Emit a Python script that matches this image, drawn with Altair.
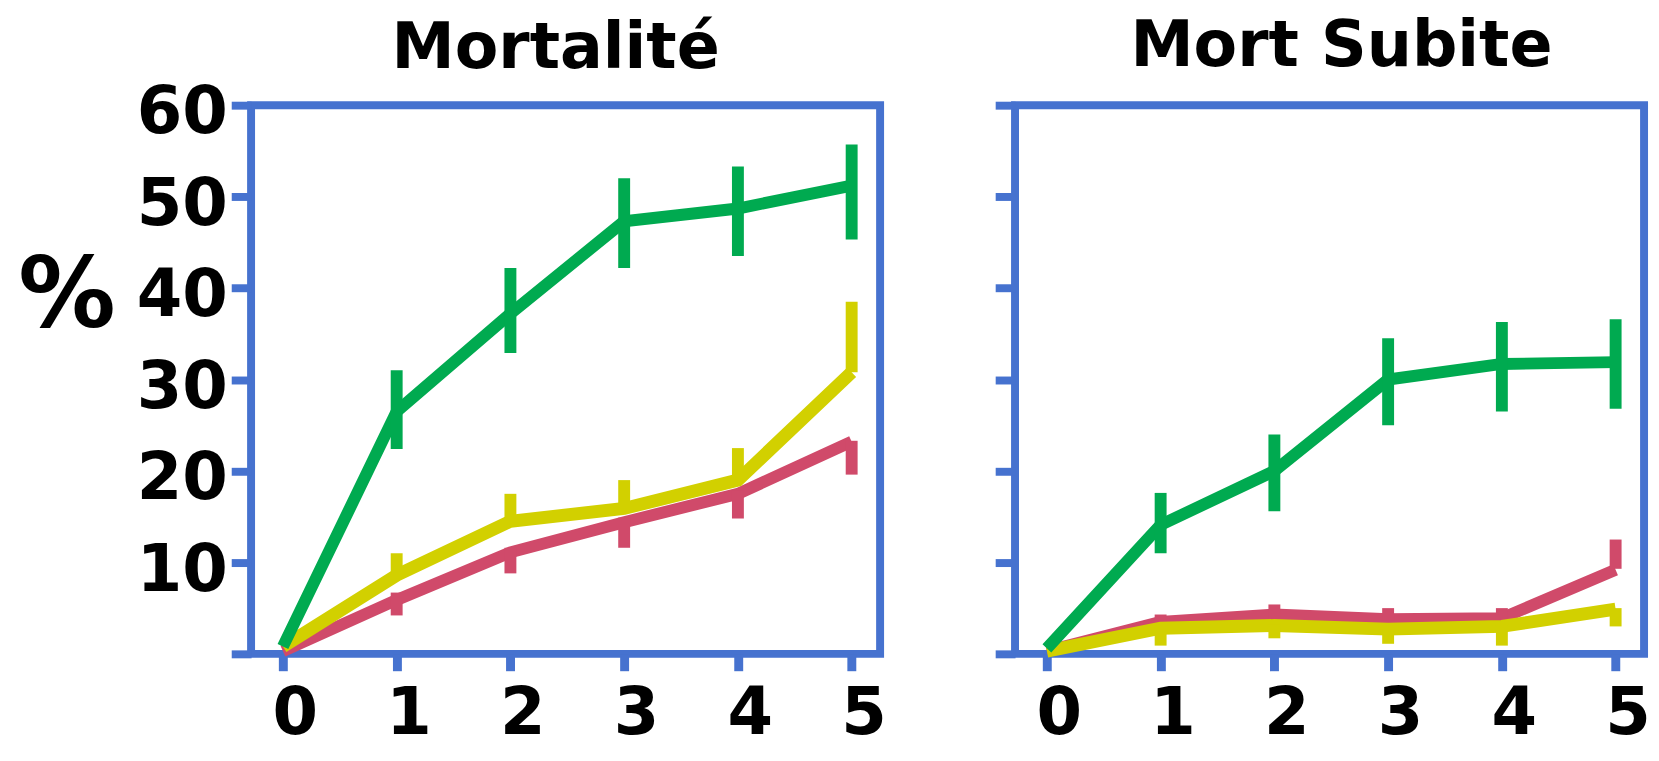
import altair as alt
import pandas as pd

FONT = "DejaVu Sans"
BLUE = "#4672CF"
COLORS = {"pink": "#D04A6A", "yellow": "#D2D000", "green": "#00AA50"}

x_vals = [0, 1, 2, 3, 4, 5]
err_x = [1, 2, 3, 4, 5]

# --- Mortalité ---
mort_green = [0.8, 26.5, 37.2, 47.3, 48.7, 51.2]
mort_green_lo = [22.4, 32.9, 42.2, 43.5, 45.3]
mort_green_hi = [31.0, 42.2, 52.0, 53.3, 55.7]
mort_yellow = [0.8, 8.6, 14.5, 15.9, 19.0, 30.8]
mort_yellow_lo = [8.3, 14.1, 15.6, 18.7, 30.8]
mort_yellow_hi = [11.0, 17.5, 19.0, 22.5, 38.5]
mort_pink = [0.3, 5.9, 11.1, 14.4, 17.5, 23.2]
mort_pink_lo = [4.2, 8.8, 11.6, 14.8, 19.6]
mort_pink_hi = [6.7, 11.6, 14.9, 17.9, 23.3]

# --- Mort Subite ---
ms_green = [0.6, 14.1, 20.0, 30.0, 31.7, 31.9]
ms_green_lo = [11.0, 15.6, 25.0, 26.5, 26.8]
ms_green_hi = [17.6, 24.0, 34.5, 36.3, 36.6]
ms_pink = [0.3, 3.5, 4.3, 3.8, 3.9, 9.2]
ms_pink_lo = [3.3, 3.8, 3.6, 3.6, 9.3]
ms_pink_hi = [4.3, 5.4, 5.0, 5.0, 12.5]
ms_yellow = [0.3, 2.8, 3.1, 2.7, 3.0, 4.9]
ms_yellow_lo = [0.9, 1.7, 1.1, 0.9, 3.0]
ms_yellow_hi = [2.9, 3.2, 2.8, 3.1, 5.0]

y_ticks = [0, 10, 20, 30, 40, 50, 60]
x_ticks = [0, 1, 2, 3, 4, 5]

panels = {
    "Mortalité": {
        "green": (mort_green, mort_green_lo, mort_green_hi),
        "yellow": (mort_yellow, mort_yellow_lo, mort_yellow_hi),
        "pink": (mort_pink, mort_pink_lo, mort_pink_hi),
    },
    "Mort Subite": {
        "green": (ms_green, ms_green_lo, ms_green_hi),
        "yellow": (ms_yellow, ms_yellow_lo, ms_yellow_hi),
        "pink": (ms_pink, ms_pink_lo, ms_pink_hi),
    },
}

line_rows, err_rows = [], []
for p, series in panels.items():
    for s, (vals, lo, hi) in series.items():
        for xv, yv in zip(x_vals, vals):
            line_rows.append({"panel": p, "series": s, "x": xv, "y": yv})
        for xv, l, h in zip(err_x, lo, hi):
            err_rows.append({"panel": p, "series": s, "x": xv, "lo": l, "hi": h})
line_df = pd.DataFrame(line_rows)
err_df = pd.DataFrame(err_rows)

W, H = 634, 553


def x_enc():
    return alt.X(
        "x:Q",
        scale=alt.Scale(domain=[-0.28, 5.25], nice=False, zero=False),
        axis=alt.Axis(
            values=x_ticks, format="d", tickSize=17, tickWidth=9, tickColor=BLUE,
            labelFont=FONT, labelFontSize=66, labelFontWeight="bold", labelColor="black",
            labelPadding=11, labelOffset=12, labelFlush=False, labelOverlap=False,
            domain=False, grid=False, title=None,
        ),
    )


def y_axis(show_labels):
    kw = dict(
        values=y_ticks, tickSize=20, tickWidth=8, tickColor=BLUE,
        domain=False, grid=False,
    )
    if show_labels:
        kw.update(
            labelFont=FONT, labelFontSize=66, labelFontWeight="bold", labelColor="black",
            labelPadding=4, labelOffset=8, labelFlush=False, labelOverlap=False,
            labelExpr="datum.value == 0 ? '' : datum.label",
            title="%", titleAngle=0, titleFont=FONT, titleFontSize=98,
            titleFontWeight="bold", titleColor="black", titleX=-186, titleY=223,
            titleAlign="center", titleBaseline="alphabetic",
        )
    else:
        kw.update(labels=False, title=None)
    return alt.Axis(**kw)


def panel(name, show_labels, title_offset, title_dx):
    layers = []
    ldf = line_df[line_df.panel == name]
    edf = err_df[err_df.panel == name]
    for s, lw in [("pink", 12), ("yellow", 13), ("green", 12)]:
        layers.append(
            alt.Chart(ldf[ldf.series == s]).mark_line(
                color=COLORS[s], strokeWidth=lw, strokeJoin="miter", strokeCap="butt"
            ).encode(
                x=x_enc(),
                y=alt.Y("y:Q", scale=alt.Scale(domain=[0, 60], nice=False), axis=y_axis(show_labels)),
            )
        )
        layers.append(
            alt.Chart(edf[edf.series == s]).mark_rule(
                color=COLORS[s], strokeWidth=12, strokeCap="butt"
            ).encode(
                x=x_enc(),
                y=alt.Y("lo:Q", scale=alt.Scale(domain=[0, 60], nice=False), axis=y_axis(show_labels)),
                y2="hi:Q",
            )
        )
    return alt.layer(*layers).properties(
        width=W, height=H,
        title=alt.TitleParams(
            name, font=FONT, fontSize=64, fontWeight="bold", color="black",
            anchor="middle", frame="group", baseline="alphabetic",
            offset=title_offset, dx=title_dx,
        ),
    )


chart = alt.hconcat(
    panel("Mortalité", True, -52, -10),
    panel("Mort Subite", False, -29, 12),
    spacing=97,
).properties(
    padding={"left": 5, "top": 1, "right": -4, "bottom": 2},
    background="white",
).configure_view(
    stroke=BLUE, strokeWidth=8,
)

chart.save("out.html", embed_options={"renderer": "svg", "actions": False})
